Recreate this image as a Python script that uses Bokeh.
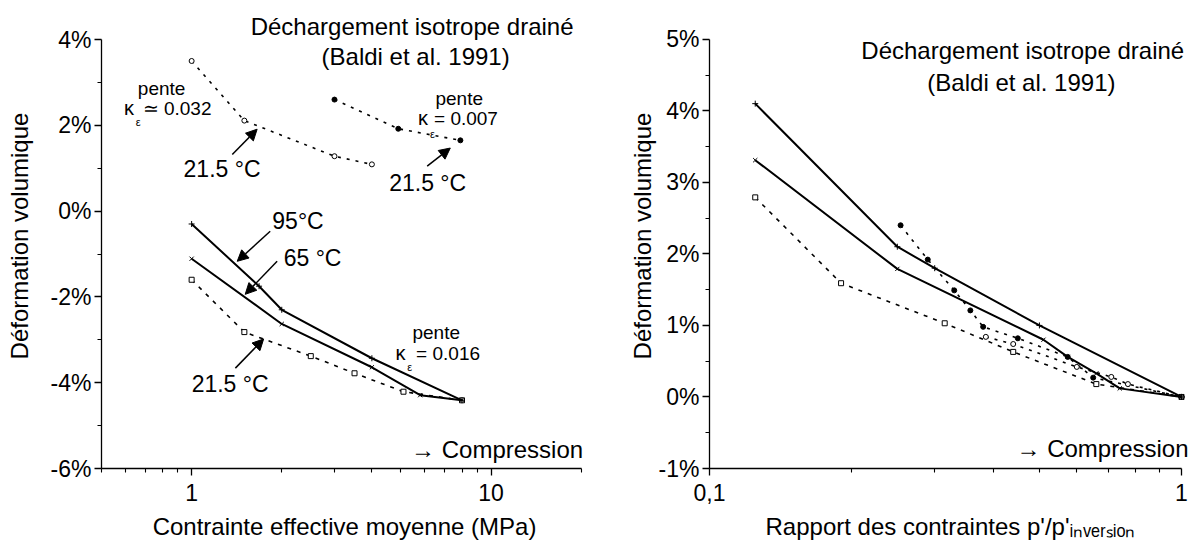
from bokeh.plotting import figure
from bokeh.layouts import row
from bokeh.models import FixedTicker, CustomJSTickFormatter, Label, Arrow, NormalHead, Range1d
from bokeh.embed import file_html
from bokeh.resources import INLINE

FONT = "Liberation Sans"

# ---------------- data: left panel (log x: mean effective stress, MPa) -------------
left_x_major = [1, 10]
left_x_minor = [0.5, 0.6, 0.7, 0.8, 0.9, 2, 3, 4, 5, 6, 7, 8, 9, 20]
left_y_major = [-6, -4, -2, 0, 2, 4]
left_y_minor = [-5, -3, -1, 1, 3]

kappa032_x = [1.0, 1.5, 3.0, 4.0]
kappa032_y = [3.5, 2.11, 1.28, 1.09]
kappa007_x = [3.0, 4.9, 7.9]
kappa007_y = [2.6, 1.92, 1.65]
t95_x = [1.0, 1.68, 2.0, 4.0, 8.0]
t95_y = [-0.3, -1.75, -2.3, -3.43, -4.41]
t65_x = [1.0, 2.0, 4.0, 5.8, 8.0]
t65_y = [-1.11, -2.63, -3.64, -4.29, -4.41]
t21_x = [1.0, 1.5, 2.5, 3.5, 5.1, 8.0]
t21_y = [-1.6, -2.82, -3.38, -3.78, -4.21, -4.41]

# ---------------- data: right panel (log x: p'/p'inversion) -------------------------
right_x_major = [0.1, 1.0]
right_x_minor = [0.2, 0.3, 0.4, 0.5, 0.6, 0.7, 0.8, 0.9]
right_y_major = [-1, 0, 1, 2, 3, 4, 5]
right_y_minor = [-0.5, 0.5, 1.5, 2.5, 3.5, 4.5]

r95_x = [0.125, 0.25, 0.3, 0.5, 1.0]
r95_y = [4.1, 2.1, 1.8, 1.0, 0.0]
r65_x = [0.125, 0.25, 0.51, 0.574, 0.66, 0.74, 1.0]
r65_y = [3.31, 1.79, 0.8, 0.56, 0.33, 0.12, 0.0]
r21a_x = [0.125, 0.19, 0.315, 0.44, 0.66, 1.0]
r21a_y = [2.79, 1.59, 1.03, 0.63, 0.18, 0.0]
r21b_x = [0.254, 0.29, 0.33, 0.357, 0.38, 0.45, 0.574, 0.65, 1.0]
r21b_y = [2.4, 1.92, 1.49, 1.21, 0.98, 0.82, 0.56, 0.27, 0.0]
r21c_x = [0.385, 0.44, 0.6, 0.71, 0.77, 1.0]
r21c_y = [0.84, 0.74, 0.42, 0.28, 0.18, 0.0]

pct = CustomJSTickFormatter(code="return tick + '%';")


def style(p, xmaj, xmin, ymaj, ymin, xfmt):
    p.xgrid.visible = False
    p.ygrid.visible = False
    p.outline_line_color = None
    p.xaxis.ticker = FixedTicker(ticks=xmaj, minor_ticks=xmin)
    p.yaxis.ticker = FixedTicker(ticks=ymaj, minor_ticks=ymin)
    p.xaxis.formatter = xfmt
    p.yaxis.formatter = pct
    for ax in (p.xaxis[0], p.yaxis[0]):
        ax.axis_line_color = "black"
        ax.axis_line_width = 1.3
        ax.major_tick_line_color = "black"
        ax.minor_tick_line_color = "black"
        ax.major_tick_line_width = 1.3
        ax.minor_tick_line_width = 1.1
        ax.major_tick_in = 0
        ax.major_tick_out = 7
        ax.minor_tick_in = 0
        ax.minor_tick_out = 4
        ax.major_label_text_font = FONT
        ax.major_label_text_font_size = "23px"
        ax.major_label_text_color = "black"
        ax.axis_label_text_font = FONT
        ax.axis_label_text_font_size = "24px"
        ax.axis_label_text_font_style = "normal"
        ax.axis_label_text_color = "black"
    p.xaxis.major_label_standoff = 8
    p.xaxis.axis_label_standoff = 9
    p.yaxis.major_label_standoff = 3


def lab(p, x, y, text, size="23px", align="left"):
    p.add_layout(Label(x=x, y=y, text=text, text_font=FONT, text_font_size=size,
                       text_align=align, text_baseline="middle", text_color="black"))


def arr(p, x0, y0, x1, y1):
    p.add_layout(Arrow(end=NormalHead(size=11, fill_color="black", line_color="black"),
                       x_start=x0, y_start=y0, x_end=x1, y_end=y1,
                       line_color="black", line_width=1.5))


H = 548

# ---------------- left figure ----------------
p1 = figure(width=625, height=H, x_axis_type="log",
            x_range=Range1d(0.5, 21), y_range=Range1d(-6, 4.84),
            output_backend="svg", toolbar_location=None,
            min_border_left=101, min_border_right=38, min_border_top=3, min_border_bottom=80)
p1.xaxis.axis_label = "Contrainte effective moyenne (MPa)"
p1.yaxis.axis_label = "Déformation volumique"
style(p1, left_x_major, left_x_minor, left_y_major, left_y_minor,
      CustomJSTickFormatter(code="return tick.toFixed(0);"))
p1.yaxis.bounds = (-6, 4)
p1.xaxis.bounds = (0.5, 20)
p1.yaxis.axis_label_standoff = 15

DOT = "3 6"
p1.line(kappa032_x, kappa032_y, line_color="black", line_width=1.6, line_dash=DOT)
p1.scatter(kappa032_x, kappa032_y, marker="circle", size=5, line_color="black", fill_color="white")
p1.line(kappa007_x, kappa007_y, line_color="black", line_width=1.6, line_dash=DOT)
p1.scatter(kappa007_x, kappa007_y, marker="circle", size=5, line_color="black", fill_color="black")
p1.line(t21_x, t21_y, line_color="black", line_width=1.6, line_dash="4 6")
p1.scatter(t21_x, t21_y, marker="square", size=5, line_color="black", fill_color="white")
p1.line(t65_x, t65_y, line_color="black", line_width=2)
p1.scatter(t65_x, t65_y, marker="x", size=6, line_color="black")
p1.line(t95_x, t95_y, line_color="black", line_width=2)
p1.scatter(t95_x, t95_y, marker="cross", size=6, line_color="black")

lab(p1, 5.45, 4.31, "Déchargement isotrope drainé", "24px", "center")
lab(p1, 5.6, 3.61, "(Baldi et al. 1991)", "24px", "center")
lab(p1, 0.794, 2.87, "pente", "19px", "center")
lab(p1, 0.594, 2.40, "κ", "20px")
lab(p1, 0.651, 2.07, "ε", "11px")
lab(p1, 0.686, 2.40, "≃ 0.032", "19px")
lab(p1, 0.94, 0.98, "21.5 °C")
arr(p1, 1.367, 1.32, 1.655, 1.91)
lab(p1, 7.83, 2.63, "pente", "19px", "center")
lab(p1, 5.70, 2.17, "κ", "20px")
lab(p1, 6.25, 1.79, "ε", "11px")
lab(p1, 6.45, 2.17, "= 0.007", "19px")
lab(p1, 4.57, 0.65, "21.5 °C")
arr(p1, 6.12, 1.05, 7.31, 1.47)
lab(p1, 1.86, -0.23, "95°C")
arr(p1, 1.83, -0.47, 1.42, -1.17)
lab(p1, 2.03, -1.10, "65 °C")
arr(p1, 1.93, -1.17, 1.51, -1.94)
lab(p1, 6.56, -2.82, "pente", "19px", "center")
lab(p1, 4.80, -3.31, "κ", "20px")
lab(p1, 5.25, -3.64, "ε", "11px")
lab(p1, 5.62, -3.31, "= 0.016", "19px")
lab(p1, 1.0, -4.03, "21.5 °C")
arr(p1, 1.40, -3.66, 1.74, -2.98)
lab(p1, 20.3, -5.55, "→ Compression", "24px", "right")

# ---------------- right figure ----------------
p2 = figure(width=566, height=H, x_axis_type="log",
            x_range=Range1d(0.1, 1.05), y_range=Range1d(-1, 5.5),
            output_backend="svg", toolbar_location=None,
            min_border_left=83, min_border_right=0, min_border_top=3, min_border_bottom=80)
p2.yaxis.axis_label = "Déformation volumique"
p2.xaxis.axis_label = "Rapport des contraintes p'/p'ᵢₙᵥₑᵣₛᵢₒₙ"
style(p2, right_x_major, right_x_minor, right_y_major, right_y_minor,
      CustomJSTickFormatter(code="return tick < 0.5 ? '0,1' : '1';"))
p2.yaxis.bounds = (-1, 5)
p2.xaxis.bounds = (0.1, 1.0)
p2.yaxis.axis_label_standoff = 0

p2.line(r21a_x, r21a_y, line_color="black", line_width=1.6, line_dash="4 6")
p2.scatter(r21a_x, r21a_y, marker="square", size=5, line_color="black", fill_color="white")
p2.line(r21b_x, r21b_y, line_color="black", line_width=1.6, line_dash=DOT)
p2.scatter(r21b_x, r21b_y, marker="circle", size=5, line_color="black", fill_color="black")
p2.line(r21c_x, r21c_y, line_color="black", line_width=1.6, line_dash=DOT)
p2.scatter(r21c_x, r21c_y, marker="circle", size=5, line_color="black", fill_color="white")
p2.line(r65_x, r65_y, line_color="black", line_width=2)
p2.scatter(r65_x, r65_y, marker="x", size=6, line_color="black")
p2.line(r95_x, r95_y, line_color="black", line_width=2)
p2.scatter(r95_x, r95_y, marker="cross", size=6, line_color="black")

lab(p2, 0.461, 4.85, "Déchargement isotrope drainé", "24px", "center")
lab(p2, 0.458, 4.40, "(Baldi et al. 1991)", "24px", "center")
lab(p2, 1.035, -0.72, "→ Compression", "24px", "right")

layout = row(p1, p2)
open("out.html", "w").write(file_html(layout, INLINE))
